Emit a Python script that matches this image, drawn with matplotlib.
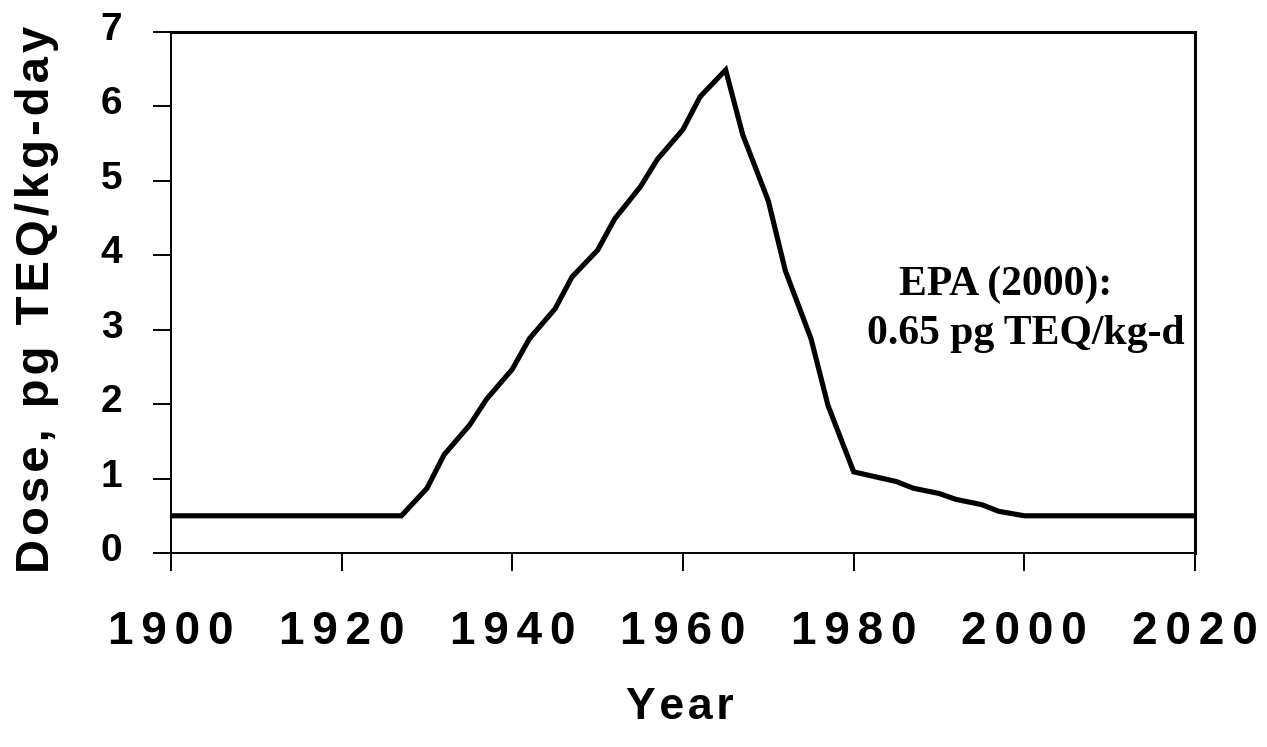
import matplotlib
matplotlib.use("Agg")
import matplotlib.pyplot as plt
import matplotlib.transforms as mtransforms

# dose history
years = [1900, 1927, 1930, 1932, 1935, 1937, 1940, 1942, 1945, 1947, 1950, 1952,
         1955, 1957, 1960, 1962, 1965, 1967, 1970, 1972, 1975, 1977, 1980, 1985,
         1987, 1990, 1992, 1995, 1997, 2000, 2020]
dose = [0.5, 0.5, 0.87, 1.32, 1.72, 2.07, 2.47, 2.88, 3.28, 3.71, 4.07, 4.49,
        4.92, 5.29, 5.69, 6.13, 6.49, 5.62, 4.73, 3.79, 2.88, 1.98, 1.09, 0.96,
        0.87, 0.80, 0.72, 0.65, 0.56, 0.5, 0.5]

x_ticks = [1900, 1920, 1940, 1960, 1980, 2000, 2020]
y_ticks = [0, 1, 2, 3, 4, 5, 6, 7]

note_line1 = "EPA (2000):"
note_line2 = "0.65 pg TEQ/kg-d"

sans = ["Liberation Sans", "DejaVu Sans"]
serif = ["Liberation Serif", "DejaVu Serif"]


# wide letter spacing like the original
def spaced(s, n=1):
    return ("\u200a" * n).join(s)


fig = plt.figure(figsize=(12.67, 7.47), dpi=100)
ax = fig.add_axes([171 / 1267, 1 - 553 / 747, 1024 / 1267, 521 / 747])

ax.plot(years, dose, color="black", linewidth=3.7, solid_joinstyle="miter")

ax.set_xlim(1900, 2020)
ax.set_ylim(0, 7)
ax.set_xticks(x_ticks)
ax.set_xticklabels([spaced(str(t), 2) for t in x_ticks], family=sans,
                   fontsize=33, fontweight="bold")
ax.set_yticks(y_ticks)
ax.set_yticklabels([str(t) for t in y_ticks], family=sans,
                   fontsize=28, fontweight="bold")
ax.tick_params(axis="x", direction="out", length=13, width=1.4, pad=28)
ax.tick_params(axis="y", direction="out", length=13, width=1.4, pad=22)

# y labels sit a little above their ticks in the original
shift = mtransforms.ScaledTranslation(0, 6 / 100, fig.dpi_scale_trans)
for lab in ax.get_yticklabels():
    lab.set_transform(lab.get_transform() + shift)

for side in ["left", "bottom"]:
    ax.spines[side].set_linewidth(1.4)
for side in ["top", "right"]:
    ax.spines[side].set_linewidth(2.2)

ax.set_ylabel(spaced("Dose, pg TEQ/kg-day"), family=sans, fontsize=34,
              fontweight="bold", va="center")
ax.yaxis.set_label_coords(-0.131, 0.486)
ax.set_xlabel(spaced("Year", 1), family=sans, fontsize=32, fontweight="bold",
              va="center")
ax.xaxis.set_label_coords(0.497, -0.296)

ax.text(1997.8, 3.6, note_line1, family=serif, fontsize=30, fontweight="bold",
        ha="center", va="center")
ax.text(2018.8, 2.94, note_line2, family=serif, fontsize=30, fontweight="bold",
        ha="right", va="center")

fig.savefig("out.png", dpi=100)
